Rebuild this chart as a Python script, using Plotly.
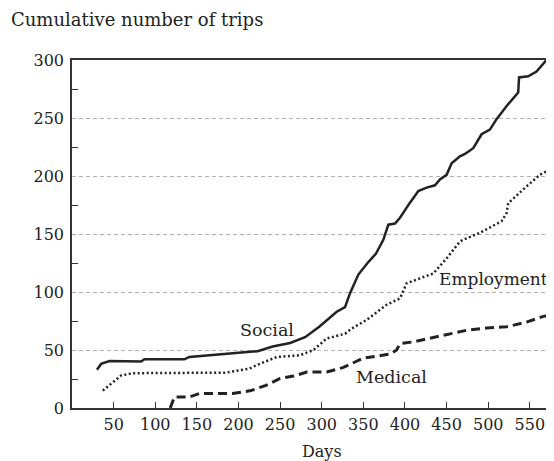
import plotly.graph_objects as go

# ---- data ----
social_days = [30, 35, 45, 83, 87, 135, 141, 180, 223, 241, 262, 280, 297, 318, 328, 334, 344, 355, 365, 374,
               380, 388, 394, 406, 416, 426, 436, 442, 450, 456, 466, 472, 482, 492, 502, 510, 524, 536, 537,
               548, 558, 570, 580]
social_trips = [33, 38, 40.5, 40, 42, 42, 44, 46.5, 49, 53, 56, 61, 70, 83, 87, 99, 115, 125, 133, 145,
                158, 159, 164, 177, 187, 190, 192, 197, 201, 211, 217, 219, 224, 236, 240, 249, 262, 272, 285,
                286, 290, 300, 300]

employment_days = [37, 49, 59, 73, 185, 213, 222, 246, 274, 290, 306, 328, 336, 354, 378, 394, 402, 434, 450,
                   466, 470, 490, 516, 522, 524, 546, 562, 578]
employment_trips = [15, 22.5, 28, 30, 30.5, 34, 37, 44, 45.5, 50, 60, 64, 68.5, 76, 89, 94.5, 107.5, 116, 129,
                    143.5, 145, 151, 161, 168, 176.5, 191, 201, 207]

medical_days = [118, 123, 141, 153, 193, 215, 233, 250, 266, 282, 306, 326, 350, 382, 390, 394, 410, 450, 474,
                498, 522, 546, 566, 580]
medical_trips = [0, 9.5, 9.5, 12.5, 12.5, 15, 19.5, 25.5, 27.5, 31, 31, 35, 43, 46.5, 50, 55.5, 57, 63, 67,
                 69, 70, 74, 79, 80]

x_ticks = [50, 100, 150, 200, 250, 300, 350, 400, 450, 500, 550]
y_ticks = [0, 50, 100, 150, 200, 250, 300]

labels = ["Social", "Employment", "Medical"]
label_days = [234, 438, 384]
label_trips = [67, 111, 27]

FONT = "DejaVu Serif"
INK = "#222222"

# The page body has an 8px default margin, so the figure is sized to fit the window.
W, H = 546, 453

fig = go.Figure()
fig.add_trace(go.Scatter(x=social_days, y=social_trips, mode="lines",
                         line=dict(color=INK, width=2.5), name="Social"))
fig.add_trace(go.Scatter(x=employment_days, y=employment_trips, mode="lines",
                         line=dict(color=INK, width=2.5, dash="2px,2.5px"), name="Employment"))
fig.add_trace(go.Scatter(x=medical_days, y=medical_trips, mode="lines",
                         line=dict(color=INK, width=3, dash="9px,5px"), name="Medical"))

fig.add_annotation(x=label_days[0], y=label_trips[0], text=labels[0], showarrow=False,
                   xanchor="center", yanchor="middle", font=dict(family=FONT, size=17.5, color=INK))
fig.add_annotation(x=label_days[1], y=label_trips[1], text=labels[1], showarrow=False,
                   xanchor="left", yanchor="middle", font=dict(family=FONT, size=17, color=INK))
fig.add_annotation(x=label_days[2], y=label_trips[2], text=labels[2], showarrow=False,
                   xanchor="center", yanchor="middle", font=dict(family=FONT, size=17.5, color=INK))

fig.add_annotation(xref="paper", yref="paper", x=0.519, y=-0.126, text="Days", showarrow=False,
                   xanchor="center", yanchor="middle", font=dict(family=FONT, size=16, color=INK))

fig.update_layout(
    width=W, height=H,
    margin=dict(l=64, r=0, t=52, b=53),
    paper_bgcolor="white", plot_bgcolor="white",
    showlegend=False,
    font=dict(family=FONT, size=16, color=INK),
    title=dict(text="Cumulative number of trips", xref="container", yref="container",
               x=3 / W, xanchor="left", y=1 - 12 / H, yanchor="middle",
               font=dict(family=FONT, size=18, color=INK)),
)
fig.update_xaxes(range=[0, 579], tickvals=x_ticks, ticks="inside", ticklen=6, tickwidth=1,
                 tickcolor="#333", showline=True, linecolor="#333", linewidth=1.5, mirror=True,
                 showgrid=False, zeroline=False, ticklabelstandoff=1)
fig.update_yaxes(range=[0, 300], tickvals=y_ticks, ticks="", showline=True, linecolor="#333",
                 linewidth=1.5, showgrid=True, gridcolor="#b0b0b0", griddash="4px,3px", gridwidth=1,
                 zeroline=False, ticklabelstandoff=3,
                 minor=dict(tickvals=[25, 75, 125, 175, 225, 275], ticks="inside", ticklen=6,
                            tickcolor="#333", showgrid=False))

fig.write_html("out.html")
